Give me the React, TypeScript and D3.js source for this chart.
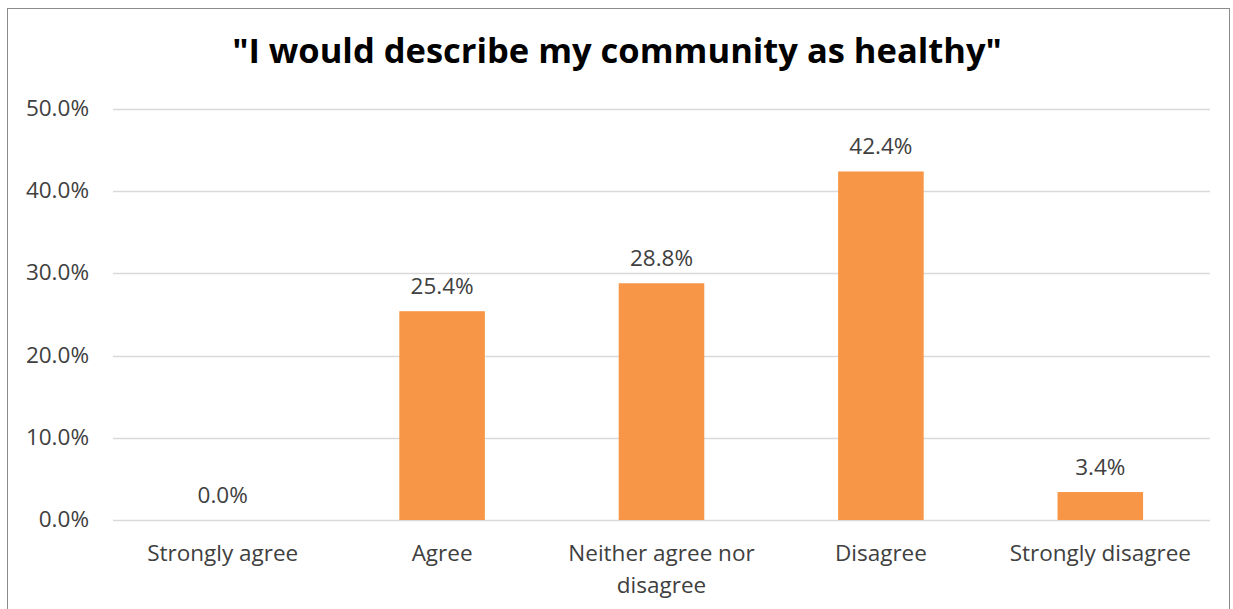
import React from "react";
import * as d3 from "d3";

const categories: string[][] = [
  ["Strongly agree"],
  ["Agree"],
  ["Neither agree nor", "disagree"],
  ["Disagree"],
  ["Strongly disagree"],
];
const values: number[] = [0.0, 25.4, 28.8, 42.4, 3.4];
const yTicks: number[] = [0, 10, 20, 30, 40, 50];
const title = '"I would describe my community as healthy"';

const W = 1233;
const H = 609;
const FONT = "'Open Sans', sans-serif";

export default function App() {
  const left = 113;
  const right = 1210;
  const top = 109;
  const bottom = 520;
  const x = d3
    .scaleBand<number>()
    .domain(values.map((_, i) => i))
    .range([left, right])
    .paddingInner(0.61)
    .paddingOuter(0.305);
  const y = d3.scaleLinear().domain([0, 50]).range([bottom, top]);

  return (
    <svg
      width={W}
      height={H}
      style={{ position: "absolute", left: 0, top: 0, background: "#fff" }}
    >
      <rect x={0} y={0} width={W} height={H} fill="#fff" />
      <rect
        x={7.5}
        y={8.5}
        width={1222}
        height={H + 10}
        fill="none"
        stroke="#8c8c8c"
        strokeWidth={1}
      />
      <text
        x={617}
        y={63}
        textAnchor="middle"
        fontFamily={FONT}
        fontWeight="bold"
        fontSize={34.5}
        fill="#000"
      >
        {title}
      </text>
      {yTicks.map((t) => (
        <g key={t}>
          <line
            x1={left}
            x2={right}
            y1={Math.round(y(t)) + 0.5}
            y2={Math.round(y(t)) + 0.5}
            stroke="#d9d9d9"
            strokeWidth={1.5}
          />
          <text
            x={89}
            y={y(t) + 7}
            textAnchor="end"
            fontFamily={FONT}
            fontSize={22.5}
            fill="#404040"
          >
            {t.toFixed(1) + "%"}
          </text>
        </g>
      ))}
      {values.map((v, i) => (
        <g key={i}>
          <rect
            x={x(i)}
            y={y(v)}
            width={x.bandwidth()}
            height={bottom - y(v)}
            fill="#f79646"
          />
          <text
            x={(x(i) as number) + x.bandwidth() / 2}
            y={y(v) - 17}
            textAnchor="middle"
            fontFamily={FONT}
            fontSize={22.5}
            fill="#404040"
          >
            {v.toFixed(1) + "%"}
          </text>
          {categories[i].map((line, j) => (
            <text
              key={j}
              x={(x(i) as number) + x.bandwidth() / 2}
              y={561 + j * 31.5}
              textAnchor="middle"
              fontFamily={FONT}
              fontSize={22.5}
              fill="#404040"
            >
              {line}
            </text>
          ))}
        </g>
      ))}
    </svg>
  );
}
